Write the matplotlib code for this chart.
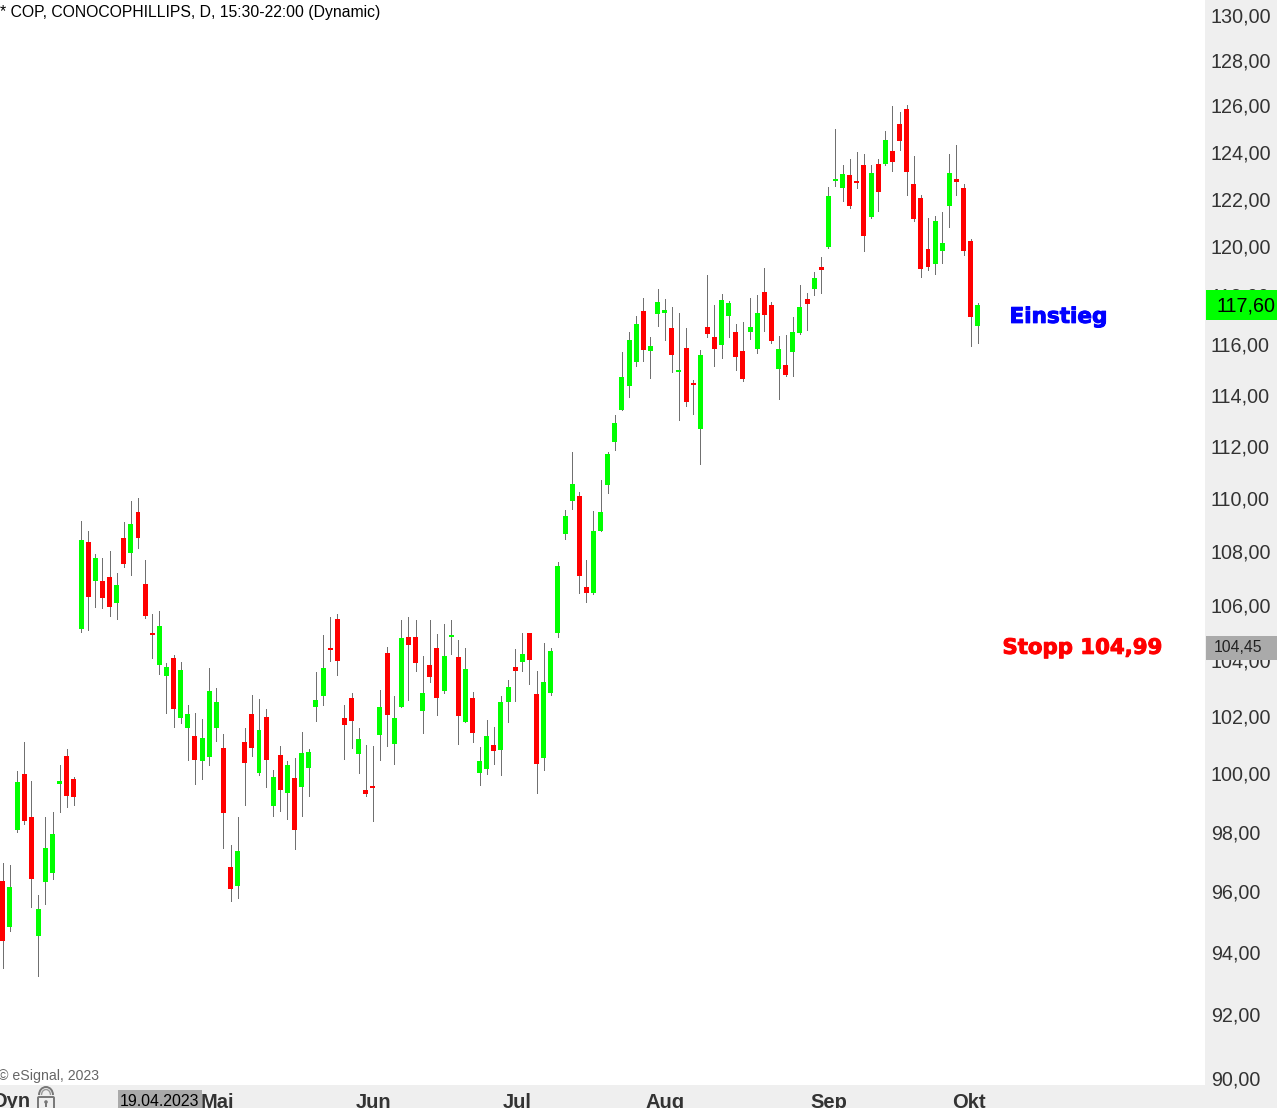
import matplotlib
matplotlib.use('Agg')
import matplotlib.pyplot as plt
import matplotlib.patheffects as pe
from matplotlib.patches import Rectangle, FancyBboxPatch, Arc, Circle
from matplotlib.transforms import IdentityTransform
from matplotlib.ticker import NullLocator

plt.rcParams['font.family'] = ['Liberation Sans', 'DejaVu Sans']

W, H = 1277, 1108

opens = [96.35, 94.83, 98.07, 99.98, 98.51, 94.54, 96.32, 96.62, 99.64, 100.61,
         99.82, 105.13, 108.34, 106.89, 106.89, 107.04, 106.07, 108.49, 107.93, 109.47,
         106.78, 104.99, 103.83, 103.43, 104.08, 101.94, 101.59, 101.31, 100.44, 100.58,
         101.59, 100.89, 96.82, 96.18, 101.10, 102.08, 100.02, 101.97, 98.89, 100.65,
         99.33, 99.85, 99.54, 100.19, 102.33, 102.72, 104.44, 105.49, 101.94, 102.65,
         100.68, 99.43, 99.57, 101.34, 104.26, 101.03, 102.33, 104.84, 104.84, 102.19,
         103.83, 104.44, 102.90, 104.84, 104.11, 101.80, 102.65, 100.02, 100.16, 100.99,
         100.82, 102.51, 103.75, 103.94, 104.98, 102.79, 100.54, 102.83, 104.98, 108.64,
         109.89, 110.08, 106.67, 106.44, 108.75, 110.50, 112.15, 113.40, 114.34, 115.30,
         117.35, 115.74, 117.23, 117.27, 116.66, 114.90, 115.86, 114.46, 112.66, 116.70,
         116.30, 115.98, 117.15, 116.50, 115.74, 116.50, 115.82, 118.12, 117.59, 115.02,
         115.18, 115.70, 116.46, 117.84, 118.25, 119.15, 119.97, 122.75, 122.45, 123.00,
         122.75, 123.43, 121.22, 123.47, 123.47, 124.03, 125.19, 125.84, 122.62, 122.03,
         119.89, 119.28, 119.81, 121.69, 122.83, 122.45, 120.23, 116.74]
closes = [94.37, 96.15, 99.71, 98.37, 96.42, 95.43, 97.46, 97.93, 99.74, 99.23,
          99.20, 108.42, 106.30, 107.74, 106.26, 105.93, 106.74, 107.52, 109.02, 108.49,
          105.60, 104.91, 105.24, 103.75, 102.25, 103.65, 102.08, 100.48, 101.24, 102.90,
          102.51, 98.65, 96.08, 97.36, 100.37, 100.89, 101.52, 100.48, 99.88, 99.43,
          100.30, 98.07, 100.72, 100.75, 102.57, 103.72, 104.37, 103.97, 101.69, 101.83,
          101.20, 99.30, 99.50, 102.33, 102.04, 101.94, 104.80, 104.55, 103.90, 102.83,
          103.40, 102.65, 104.15, 104.91, 102.01, 103.69, 101.41, 100.44, 101.31, 100.79,
          102.51, 103.04, 103.61, 104.22, 104.00, 100.33, 103.22, 104.33, 107.44, 109.32,
          110.54, 107.07, 106.44, 108.75, 109.47, 111.69, 112.89, 114.70, 116.18, 116.83,
          115.78, 115.94, 117.72, 117.39, 115.58, 114.98, 113.71, 114.38, 115.58, 116.42,
          115.82, 117.80, 117.68, 115.51, 114.62, 116.70, 117.27, 117.19, 116.14, 115.82,
          114.78, 116.50, 117.51, 117.64, 118.70, 119.03, 122.11, 122.83, 123.05, 121.69,
          122.66, 120.44, 123.09, 122.28, 124.50, 123.56, 124.46, 123.13, 121.14, 119.07,
          119.15, 121.06, 120.14, 123.09, 122.70, 119.81, 117.11, 117.59]
highs = [96.96, 96.89, 100.09, 101.10, 99.74, 95.89, 98.51, 98.68, 100.30, 100.86,
         99.88, 109.13, 108.75, 107.89, 107.74, 108.00, 107.19, 109.09, 109.89, 110.00,
         107.67, 105.67, 105.78, 103.90, 104.19, 103.94, 102.40, 102.11, 101.90, 103.72,
         103.00, 101.38, 97.56, 98.51, 101.59, 102.75, 102.61, 102.25, 100.12, 100.96,
         100.44, 100.54, 101.45, 100.86, 103.58, 104.91, 105.56, 105.67, 102.40, 102.83,
         101.59, 100.99, 100.96, 102.94, 104.47, 102.72, 105.46, 105.56, 105.46, 104.15,
         105.46, 104.95, 105.31, 105.46, 104.73, 104.44, 102.87, 100.92, 101.87, 101.62,
         102.72, 103.29, 104.40, 104.98, 104.98, 103.61, 104.62, 104.44, 107.59, 109.55,
         111.76, 110.23, 107.67, 109.51, 110.69, 111.76, 113.20, 115.70, 116.50, 117.15,
         117.88, 116.30, 118.25, 117.84, 117.51, 117.27, 116.66, 114.58, 115.78, 118.82,
         117.59, 118.04, 117.76, 116.83, 116.91, 117.88, 118.00, 119.11, 117.72, 116.34,
         116.38, 117.11, 118.41, 118.08, 118.95, 119.56, 122.49, 124.98, 123.43, 123.69,
         123.98, 123.90, 123.43, 123.69, 124.89, 125.97, 125.71, 126.01, 123.80, 122.15,
         121.19, 121.26, 121.44, 123.90, 124.29, 122.62, 120.31, 117.68]
lows = [93.50, 94.70, 98.00, 98.27, 95.49, 93.24, 95.59, 96.42, 98.68, 98.86,
        98.92, 105.02, 105.09, 105.93, 105.89, 105.60, 105.49, 107.41, 107.11, 108.11,
        105.53, 104.08, 103.50, 102.11, 101.62, 101.76, 100.48, 99.64, 99.81, 100.30,
        101.14, 97.46, 95.69, 95.79, 98.92, 100.61, 99.95, 99.54, 98.54, 98.72,
        98.45, 97.43, 98.54, 99.23, 101.83, 102.40, 103.97, 103.47, 100.51, 100.89,
        100.02, 99.23, 98.37, 100.48, 100.96, 100.33, 102.33, 102.57, 103.61, 101.41,
        103.22, 102.04, 102.83, 104.22, 101.03, 101.80, 101.10, 99.61, 99.98, 100.33,
        99.95, 101.80, 102.54, 103.61, 103.15, 99.33, 100.12, 102.75, 104.84, 108.45,
        109.58, 106.44, 106.11, 106.41, 108.75, 110.19, 111.84, 113.40, 113.91, 115.14,
        115.34, 114.66, 116.74, 116.18, 114.90, 113.01, 113.56, 113.24, 111.31, 116.30,
        115.14, 115.46, 116.30, 114.98, 114.54, 116.22, 115.66, 116.54, 116.06, 113.83,
        114.74, 114.74, 116.42, 116.58, 118.00, 118.08, 119.93, 122.53, 121.90, 121.61,
        122.45, 119.81, 121.19, 121.48, 123.43, 123.18, 124.07, 122.15, 121.06, 118.74,
        119.03, 118.87, 119.32, 120.81, 122.15, 119.65, 115.94, 116.06]

price_ticks = [130, 128, 126, 124, 122, 120, 118, 116, 114, 112, 110,
               108, 106, 104, 102, 100, 98, 96, 94, 92, 90]
month_pos = [30.2, 52.1, 72.3, 93, 116, 135.8]
month_names = ['Mai', 'Jun', 'Jul', 'Aug', 'Sep', 'Okt']
last_price = 117.60
stop_price = 104.45

fig = plt.figure(figsize=(W / 100, H / 100), dpi=100, facecolor='#efefef')
# plot area is 1205 x 1085 px, the strips right and below stay grey
ax = fig.add_axes([0, 1 - 1085 / H, 1205 / W, 1085 / H], facecolor='white')
ax.set_yscale('log')

days = list(range(len(opens)))
colors = ['#00ff00' if c >= o else '#ff0000' for o, c in zip(opens, closes)]
ax.vlines(days, lows, highs, color='#707070', linewidth=0.72, antialiased=False, zorder=2)
bottoms = [min(o, c) for o, c in zip(opens, closes)]
heights = [abs(o - c) for o, c in zip(opens, closes)]
ax.bar(days, heights, bottom=bottoms, width=0.7, color=colors, linewidth=0, antialiased=False, zorder=3)

ax.set_xlim(-0.39, 168.92)
ax.set_ylim(89.78, 130.68)
for s in ax.spines.values():
    s.set_visible(False)

ax.yaxis.tick_right()
ax.yaxis.set_minor_locator(NullLocator())
ax.set_yticks(price_ticks)
ax.set_yticklabels([f'{p},00' for p in price_ticks], fontsize=14.2, color='#333333')
ax.tick_params(axis='y', length=0, pad=4.3)
ax.set_xticks(month_pos)
ax.set_xticklabels(month_names, fontsize=14.5, fontweight='bold', color='#333333')
ax.tick_params(axis='x', length=0, pad=5.5)


def fig_xy(x, y):
    # picture pixels, counted from the top left
    return x / W, 1 - y / H


def price_y(price):
    return ax.transData.transform((0, price))[1]


# price boxes in the right strip
y_last = price_y(last_price)
fig.add_artist(Rectangle((1206, y_last - 15), 71, 30, transform=IdentityTransform(),
                         facecolor='#00ff00', edgecolor='none', zorder=5))
fig.text(1216 / W, (y_last - 1) / H, '117,60', fontsize=14.2, color='black', va='center', ha='left', zorder=6)

y_stop = price_y(stop_price)
fig.add_artist(Rectangle((1206, y_stop - 12), 71, 24, transform=IdentityTransform(),
                         facecolor='#aaaaaa', edgecolor='none', zorder=5))
fig.text(1214 / W, y_stop / H, '104,45', fontsize=11.3, color='#222222', va='center', ha='left', zorder=6)

# notes on the chart
ax.text(148.3, 117.11, 'Einstieg', color='#0000ff', fontsize=15.5, fontweight='bold',
        family='DejaVu Sans', ha='center', va='center',
        path_effects=[pe.withStroke(linewidth=0.7, foreground='#0000ff')])
ax.text(151.7, 104.44, 'Stopp 104,99', color='#ff0000', fontsize=15.3, fontweight='bold',
        family='DejaVu Sans', ha='center', va='center',
        path_effects=[pe.withStroke(linewidth=0.7, foreground='#ff0000')])

fig.text(*fig_xy(0, 13), '* COP, CONOCOPHILLIPS, D, 15:30-22:00 (Dynamic)', fontsize=11.3,
         color='black', va='center', ha='left')
fig.text(*fig_xy(-2, 1076), '© eSignal, 2023', fontsize=10.2, color='#666666', va='center', ha='left')

# bottom strip
fig.add_artist(Rectangle((118, 0), 84, 18, transform=IdentityTransform(),
                         facecolor='#aaaaaa', edgecolor='none', zorder=5))
fig.text(*fig_xy(120, 1094), '19.04.2023', fontsize=11.4, color='black', va='top', ha='left', zorder=6)
fig.text(*fig_xy(-7, 1092), 'Dyn', fontsize=14.5, fontweight='bold', color='#333333', va='top', ha='left', zorder=6)

# lock icon
fig.add_artist(FancyBboxPatch((39, -2), 14, 12, boxstyle='round,pad=1', transform=IdentityTransform(),
                              facecolor='none', edgecolor='#777777', linewidth=1.4, zorder=6))
fig.add_artist(Arc((46, 13), 14, 16, theta1=0, theta2=180, transform=IdentityTransform(),
                   edgecolor='#777777', linewidth=1.4, zorder=6))
fig.add_artist(Arc((46, 13), 9, 11, theta1=0, theta2=180, transform=IdentityTransform(),
                   edgecolor='#999999', linewidth=1, zorder=6))
fig.add_artist(Circle((46, 6), 1.8, transform=IdentityTransform(),
                      facecolor='#777777', edgecolor='none', zorder=6))
fig.add_artist(Rectangle((45.4, 1), 1.2, 4, transform=IdentityTransform(),
                         facecolor='#777777', edgecolor='none', zorder=6))

fig.savefig('out.png', dpi=100, facecolor=fig.get_facecolor())
